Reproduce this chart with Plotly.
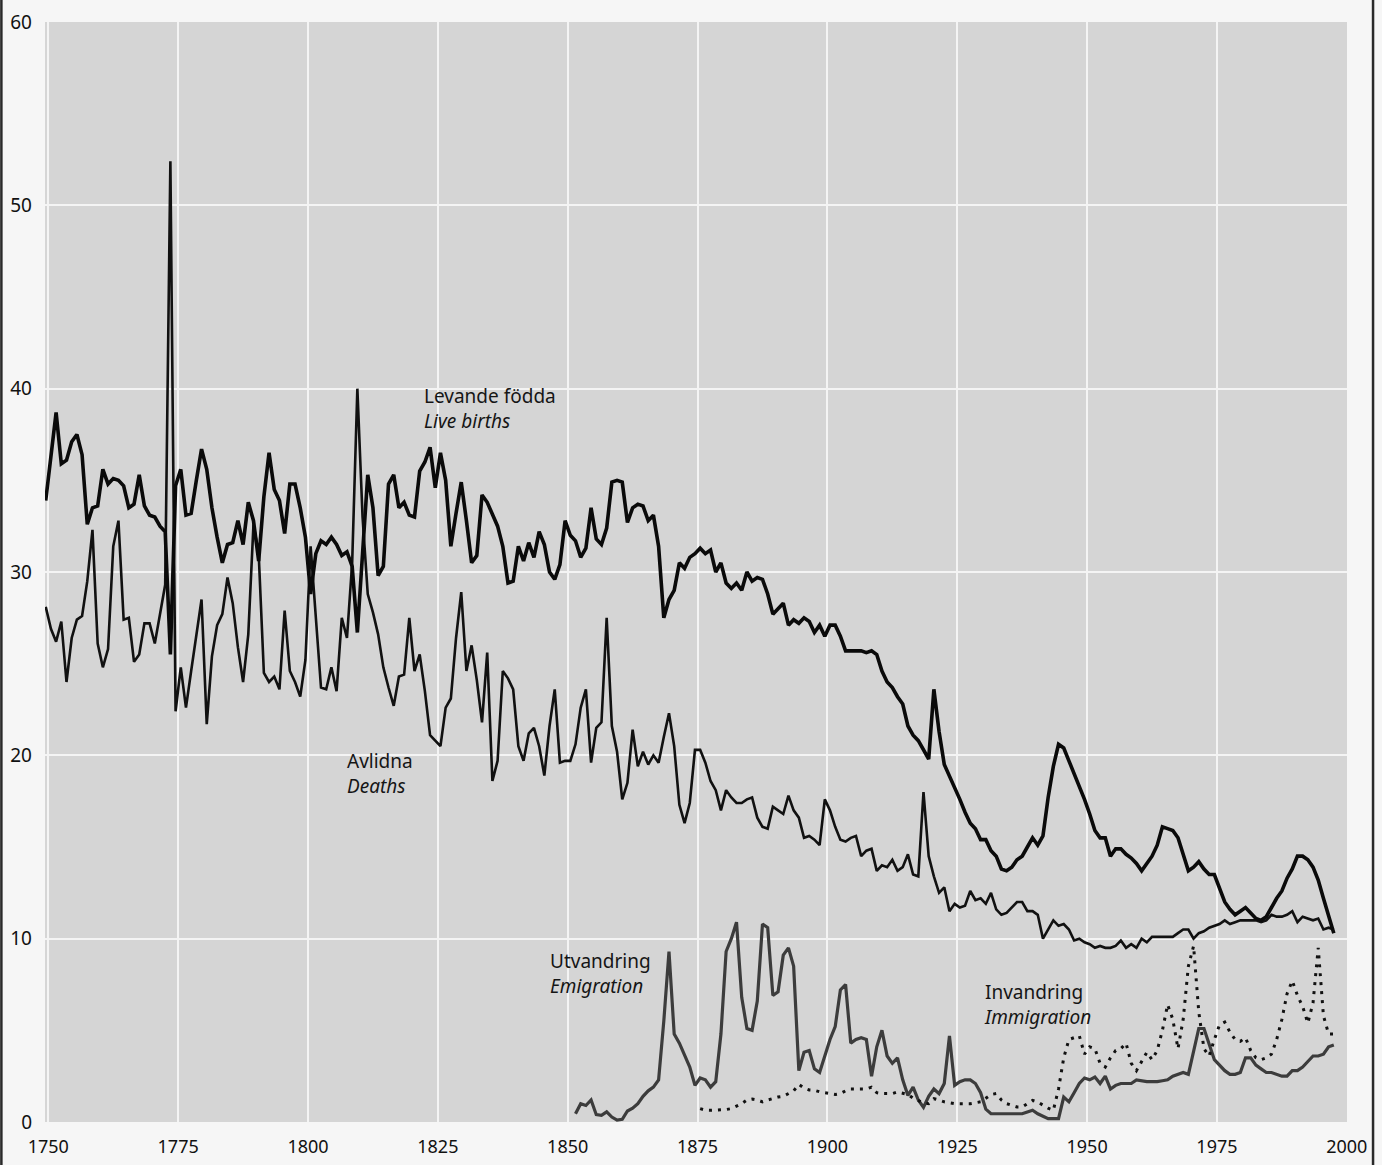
import plotly.graph_objects as go

# ---------------- data (per 1000 mean population) ----------------
years = list(range(1749, 1998))

births = [
    33.9, 36.3, 38.7, 35.9, 36.1, 37.1, 37.5, 36.4, 32.6, 33.5,  # 1749-1758
    33.6, 35.6, 34.8, 35.1, 35.0, 34.7, 33.5, 33.7, 35.3, 33.6,  # 1759-1768
    33.1, 33.0, 32.5, 32.2, 25.5, 34.7, 35.6, 33.1, 33.2, 35.0,  # 1769-1778
    36.7, 35.6, 33.5, 31.9, 30.5, 31.5, 31.6, 32.8, 31.5, 33.8,  # 1779-1788
    32.8, 30.6, 34.1, 36.5, 34.5, 33.9, 32.1, 34.8, 34.8, 33.5,  # 1789-1798
    31.9, 28.8, 31.0, 31.7, 31.5, 31.9, 31.5, 30.9, 31.1, 30.3,  # 1799-1808
    26.7, 31.0, 35.3, 33.5, 29.8, 30.3, 34.8, 35.3, 33.5, 33.8,  # 1809-1818
    33.1, 33.0, 35.5, 36.0, 36.8, 34.6, 36.5, 35.0, 31.4, 33.2,  # 1819-1828
    34.9, 32.8, 30.5, 30.9, 34.2, 33.8, 33.1, 32.5, 31.4, 29.4,  # 1829-1838
    29.5, 31.4, 30.6, 31.6, 30.8, 32.2, 31.5, 30.0, 29.6, 30.4,  # 1839-1848
    32.8, 32.0, 31.7, 30.8, 31.3, 33.5, 31.8, 31.5, 32.4, 34.9,  # 1849-1858
    35.0, 34.9, 32.7, 33.5, 33.7, 33.6, 32.8, 33.1, 31.4, 27.5,  # 1859-1868
    28.5, 29.0, 30.5, 30.2, 30.8, 31.0, 31.3, 31.0, 31.2, 30.0,  # 1869-1878
    30.5, 29.4, 29.1, 29.4, 29.0, 30.0, 29.5, 29.7, 29.6, 28.8,  # 1879-1888
    27.7, 28.0, 28.3, 27.1, 27.4, 27.2, 27.5, 27.3, 26.7, 27.1,  # 1889-1898
    26.5, 27.1, 27.1, 26.5, 25.7, 25.7, 25.7, 25.7, 25.6, 25.7,  # 1899-1908
    25.5, 24.6, 24.0, 23.7, 23.2, 22.8, 21.6, 21.1, 20.8, 20.3,  # 1909-1918
    19.8, 23.6, 21.3, 19.5, 18.9, 18.3, 17.6, 16.9, 16.3, 16.0,  # 1919-1928
    15.4, 15.4, 14.8, 14.5, 13.8, 13.7, 13.9, 14.3, 14.5, 15.0,  # 1929-1938
    15.5, 15.1, 15.6, 17.7, 19.4, 20.6, 20.4, 19.7, 19.0, 18.4,  # 1939-1948
    17.6, 16.8, 15.9, 15.5, 15.5, 14.5, 14.9, 14.9, 14.6, 14.4,  # 1949-1958
    14.1, 13.7, 14.1, 14.5, 15.1, 16.1, 16.0, 15.9, 15.5, 14.6,  # 1959-1968
    13.7, 13.9, 14.2, 13.8, 13.5, 13.5, 12.7, 12.0, 11.6, 11.3,  # 1969-1978
    11.5, 11.7, 11.4, 11.1, 11.0, 11.2, 11.7, 12.2, 12.6, 13.3,  # 1979-1988
    13.8, 14.5, 14.5, 14.3, 13.9, 13.2, 12.2, 11.2, 10.3,        # 1989-1997
]

deaths = [
    28.1, 26.9, 26.2, 27.3, 24.0, 26.4, 27.4, 27.6, 29.5, 32.3,  # 1749-1758
    26.1, 24.8, 25.8, 31.4, 32.8, 27.4, 27.5, 25.1, 25.5, 27.2,  # 1759-1768
    27.2, 26.1, 27.7, 29.3, 52.4, 22.4, 24.8, 22.6, 24.6, 26.5,  # 1769-1778
    28.5, 21.7, 25.4, 27.1, 27.7, 29.7, 28.3, 25.9, 24.0, 26.6,  # 1779-1788
    32.6, 31.0, 24.5, 24.0, 24.3, 23.6, 27.9, 24.6, 24.0, 23.2,  # 1789-1798
    25.2, 31.4, 27.5, 23.7, 23.6, 24.8, 23.5, 27.5, 26.4, 30.5,  # 1799-1808
    40.0, 33.0, 28.8, 27.8, 26.6, 24.8, 23.7, 22.7, 24.3, 24.4,  # 1809-1818
    27.5, 24.6, 25.5, 23.5, 21.1, 20.8, 20.5, 22.6, 23.1, 26.4,  # 1819-1828
    28.9, 24.6, 26.0, 24.1, 21.8, 25.6, 18.6, 19.7, 24.6, 24.2,  # 1829-1838
    23.6, 20.5, 19.7, 21.2, 21.5, 20.5, 18.9, 21.6, 23.6, 19.6,  # 1839-1848
    19.7, 19.7, 20.6, 22.6, 23.6, 19.6, 21.5, 21.8, 27.5, 21.6,  # 1849-1858
    20.2, 17.6, 18.5, 21.4, 19.4, 20.2, 19.5, 20.0, 19.6, 21.0,  # 1859-1868
    22.3, 20.5, 17.3, 16.3, 17.4, 20.3, 20.3, 19.6, 18.6, 18.1,  # 1869-1878
    17.0, 18.1, 17.7, 17.4, 17.4, 17.6, 17.7, 16.6, 16.1, 16.0,  # 1879-1888
    17.2, 17.0, 16.8, 17.8, 17.0, 16.6, 15.5, 15.6, 15.4, 15.1,  # 1889-1898
    17.6, 17.0, 16.1, 15.4, 15.3, 15.5, 15.6, 14.5, 14.8, 14.9,  # 1899-1908
    13.7, 14.0, 13.9, 14.3, 13.7, 13.9, 14.6, 13.5, 13.4, 18.0,  # 1909-1918
    14.5, 13.4, 12.5, 12.8, 11.5, 11.9, 11.7, 11.8, 12.6, 12.1,  # 1919-1928
    12.2, 11.9, 12.5, 11.6, 11.3, 11.4, 11.7, 12.0, 12.0, 11.5,  # 1929-1938
    11.5, 11.3, 10.0, 10.5, 11.0, 10.7, 10.8, 10.5, 9.9, 10.0,   # 1939-1948
    9.8, 9.7, 9.5, 9.6, 9.5, 9.5, 9.6, 9.9, 9.5, 9.7,            # 1949-1958
    9.5, 10.0, 9.8, 10.1, 10.1, 10.1, 10.1, 10.1, 10.3, 10.5,    # 1959-1968
    10.5, 10.0, 10.3, 10.4, 10.6, 10.7, 10.8, 11.0, 10.8, 10.9,  # 1969-1978
    11.0, 11.0, 11.0, 11.0, 10.9, 11.0, 11.3, 11.2, 11.2, 11.3,  # 1979-1988
    11.5, 10.9, 11.2, 11.1, 11.0, 11.1, 10.5, 10.6, 10.5,        # 1989-1997
]

emig_years = list(range(1851, 1998))
emigration = [
    0.45, 1.0, 0.9, 1.2, 0.4, 0.36, 0.55, 0.27, 0.1, 0.15,      # 1851-1860
    0.6, 0.75, 1.0, 1.4, 1.7, 1.9, 2.3, 5.5, 9.3, 4.8,          # 1861-1870
    4.3, 3.7, 3.0, 2.0, 2.4, 2.3, 1.9, 2.2, 4.8, 9.3,           # 1871-1880
    10.0, 10.9, 6.8, 5.1, 5.0, 6.6, 10.8, 10.6, 6.9, 7.1,       # 1881-1890
    9.1, 9.5, 8.5, 2.8, 3.8, 3.9, 2.9, 2.7, 3.6, 4.5,           # 1891-1900
    5.2, 7.2, 7.5, 4.3, 4.5, 4.6, 4.5, 2.5, 4.1, 5.0,           # 1901-1910
    3.6, 3.2, 3.5, 2.3, 1.45, 1.9, 1.2, 0.8, 1.4, 1.8,          # 1911-1920
    1.55, 2.1, 4.7, 2.0, 2.2, 2.3, 2.3, 2.1, 1.6, 0.7,          # 1921-1930
    0.45, 0.45, 0.45, 0.45, 0.45, 0.45, 0.45, 0.55, 0.64, 0.45, # 1931-1940
    0.3, 0.18, 0.18, 0.18, 1.36, 1.1, 1.6, 2.1, 2.4, 2.3,       # 1941-1950
    2.45, 2.1, 2.5, 1.8, 2.0, 2.1, 2.1, 2.1, 2.3, 2.25,         # 1951-1960
    2.2, 2.2, 2.2, 2.25, 2.3, 2.5, 2.6, 2.7, 2.6, 3.9,          # 1961-1970
    5.1, 5.1, 4.3, 3.4, 3.1, 2.8, 2.6, 2.6, 2.7, 3.5,           # 1971-1980
    3.5, 3.1, 2.9, 2.7, 2.7, 2.6, 2.5, 2.5, 2.8, 2.8,           # 1981-1990
    3.0, 3.3, 3.6, 3.6, 3.7, 4.1, 4.2,                          # 1991-1997
]

immig_years = list(range(1875, 1998))
immigration = [
    0.73, 0.65, 0.64, 0.64, 0.64, 0.68, 0.73, 0.85, 1.0, 1.2,   # 1875-1884
    1.25, 1.2, 1.1, 1.2, 1.3, 1.36, 1.4, 1.55, 1.7, 2.05,       # 1885-1894
    1.85, 1.75, 1.73, 1.65, 1.6, 1.55, 1.5, 1.55, 1.7, 1.8,     # 1895-1904
    1.8, 1.8, 1.8, 1.9, 1.6, 1.55, 1.55, 1.55, 1.64, 1.55,      # 1905-1914
    1.5, 1.3, 1.18, 1.05, 1.0, 1.27, 1.2, 1.1, 1.05, 1.0,       # 1915-1924
    1.0, 1.0, 1.0, 1.05, 1.1, 1.3, 1.5, 1.55, 1.2, 1.0,         # 1925-1934
    0.9, 0.82, 0.82, 1.0, 1.18, 1.09, 0.9, 0.75, 0.64, 1.8,     # 1935-1944
    3.5, 4.5, 4.6, 4.7, 3.7, 4.1, 4.0, 3.2, 3.0, 3.5,           # 1945-1954
    3.9, 4.0, 4.3, 3.2, 2.8, 3.3, 3.8, 3.4, 3.9, 5.0,           # 1955-1964
    6.4, 5.6, 4.0, 5.6, 8.5, 9.6, 6.0, 4.0, 3.6, 4.5,           # 1965-1974
    5.3, 5.45, 4.9, 4.5, 4.4, 4.6, 3.9, 3.5, 3.4, 3.5,          # 1975-1984
    3.7, 4.5, 5.6, 7.0, 7.7, 6.9, 6.3, 5.4, 6.5, 9.5,           # 1985-1994
    5.8, 4.8, 4.8,                                               # 1995-1997
]

x_ticks = [1750, 1775, 1800, 1825, 1850, 1875, 1900, 1925, 1950, 1975, 2000]
y_ticks = [0, 10, 20, 30, 40, 50, 60]

# yearly values are plotted at mid-year
def mid(ys):
    return [y + 0.5 for y in ys]

FONT = "Noto Sans"

fig = go.Figure()
fig.add_trace(go.Scatter(x=mid(emig_years), y=emigration, mode="lines",
                         line=dict(color="#3c3c3c", width=3.2), name="Utvandring"))
fig.add_trace(go.Scatter(x=mid(immig_years), y=immigration, mode="lines",
                         line=dict(color="#111111", width=3, dash="3px,6px"), name="Invandring"))
fig.add_trace(go.Scatter(x=mid(years), y=deaths, mode="lines",
                         line=dict(color="#111111", width=2.6), name="Avlidna"))
fig.add_trace(go.Scatter(x=mid(years), y=births, mode="lines",
                         line=dict(color="#0a0a0a", width=3.6), name="Levande födda"))

ann_font = dict(family=FONT, size=19, color="#151515")
labels = [
    ("Levande födda<br><i>Live births</i>", 1821.9, 38.9),
    ("Avlidna<br><i>Deaths</i>", 1807.1, 19.0),
    ("Utvandring<br><i>Emigration</i>", 1846.2, 8.1),
    ("Invandring<br><i>Immigration</i>", 1929.7, 6.4),
]
for text, ax, ay in labels:
    fig.add_annotation(x=ax, y=ay, xref="x", yref="y", text=text, showarrow=False,
                       xanchor="left", yanchor="middle", align="left", font=ann_font)

# page frame lines (left and right)
for xp in (-0.0335, 1.0200):
    fig.add_shape(type="line", xref="paper", yref="paper", x0=xp, x1=xp,
                  y0=-0.04, y1=1.021, line=dict(color="#2a2a2a", width=2.5))

fig.update_layout(
    width=1382, height=1165,
    margin=dict(l=45, r=35, t=22, b=43, autoexpand=False),
    paper_bgcolor="#f6f6f6",
    plot_bgcolor="#d5d5d5",
    showlegend=False,
    font=dict(family=FONT, size=18, color="#111111"),
    xaxis=dict(range=[1749.36, 2000.04], tickvals=x_ticks, ticktext=[str(t) for t in x_ticks],
               showgrid=True, gridcolor="#f4f4f4", gridwidth=2, zeroline=False,
               showline=False, ticks="", ticklabelstandoff=12, automargin=False,
               tickfont=dict(family=FONT, size=18, color="#111111")),
    yaxis=dict(range=[0, 60], tickvals=y_ticks, ticktext=[str(t) for t in y_ticks],
               showgrid=True, gridcolor="#f4f4f4", gridwidth=2, zeroline=False,
               showline=False, ticks="", ticklabelstandoff=12, automargin=False,
               tickfont=dict(family=FONT, size=19, color="#111111")),
)

fig.write_html("out.html", config={"displayModeBar": False},
               post_script="document.body.style.margin='0px';")
